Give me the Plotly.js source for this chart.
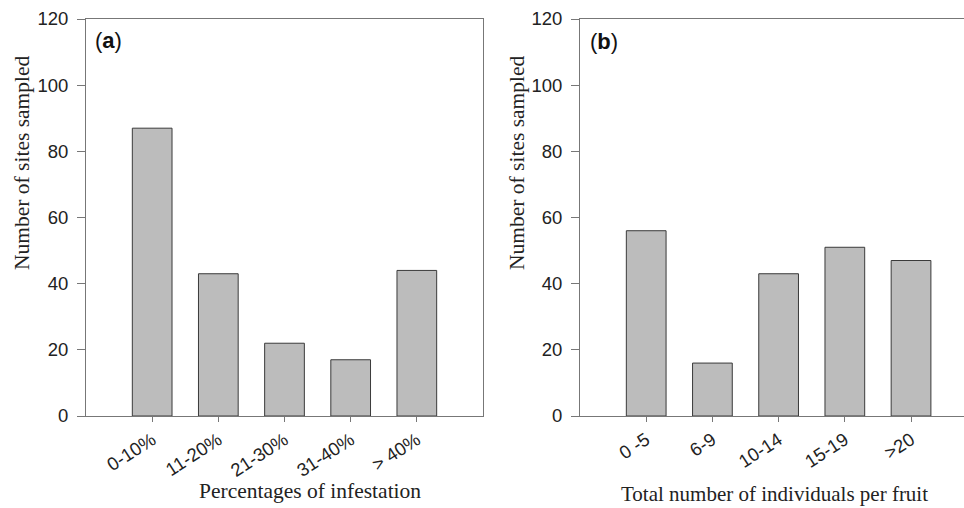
<!DOCTYPE html>
<html>
<head>
<meta charset="utf-8">
<script src="https://cdn.plot.ly/plotly-3.0.1.min.js"></script>
<style>html,body{margin:0;padding:0;background:#fff;}#chart{width:964px;height:508px;}</style>
</head>
<body>
<div id="chart"></div>
<script>
var catsA = ["0-10%", "11-20%", "21-30%", "31-40%", "> 40%"];
var valsA = [87, 43, 22, 17, 44];
var catsB = ["0 -5", "6-9", "10-14", "15-19", ">20"];
var valsB = [56, 16, 43, 51, 47];
var yTicks = [0, 20, 40, 60, 80, 100, 120];

var barStyle = {color: "#bcbcbc", line: {color: "#3a3a3a", width: 1}};
var traces = [
  {type: "bar", x: [0,1,2,3,4], y: valsA, width: 0.6, marker: barStyle, xaxis: "x", yaxis: "y", hoverinfo: "none"},
  {type: "bar", x: [0,1,2,3,4], y: valsB, width: 0.6, marker: barStyle, xaxis: "x2", yaxis: "y2", hoverinfo: "none"}
];
var xTickFont = {family: "Liberation Sans, Arial, sans-serif", size: 18.5, color: "#222"};
var yTickFont = {family: "Liberation Sans, Arial, sans-serif", size: 18.5, color: "#222"};
function xax(domain, cats, range) {
  return {domain: domain, range: range, tickmode: "array", tickvals: [0,1,2,3,4], ticktext: cats,
    tickangle: -33, ticks: "outside", ticklen: 5, tickcolor: "#777", tickwidth: 1,
    showline: true, mirror: true, linecolor: "#777", linewidth: 1, showgrid: false, zeroline: false,
    tickfont: xTickFont, fixedrange: true};
}
function yax(anchor) {
  return {domain: [1 - 416/508, 1 - 19/508], range: [0, 120], tickmode: "array", tickvals: yTicks,
    ticks: "outside", ticklen: 8, tickcolor: "#777", tickwidth: 1, showline: true, mirror: true,
    ticklabelstandoff: 5,
    linecolor: "#777", linewidth: 1, showgrid: false, zeroline: false, tickfont: yTickFont, anchor: anchor, fixedrange: true};
}
var serif = {family: "Liberation Serif, Times New Roman, serif", size: 21.5, color: "#222"};
var labFont = {family: "Liberation Sans, Arial, sans-serif", size: 22, color: "#111"};
var layout = {
  width: 964, height: 508, margin: {l: 0, r: 0, t: 0, b: 0},
  paper_bgcolor: "#fff", plot_bgcolor: "#fff", showlegend: false, bargap: 0.4,
  xaxis: Object.assign(xax([86/964, 483/964], catsA, [-1, 5]), {anchor: "y"}),
  yaxis: yax("x"),
  xaxis2: Object.assign(xax([580/964, 1], catsB, [-1, 4.8]), {anchor: "y2"}),
  yaxis2: yax("x2"),
  annotations: [
    {xref: "paper", yref: "paper", x: 310/964, y: 1 - 491/508, text: "Percentages of infestation", showarrow: false, font: serif, xanchor: "center", yanchor: "middle"},
    {xref: "paper", yref: "paper", x: 774/964, y: 1 - 494/508, text: "Total number of individuals per fruit", showarrow: false, font: {family: serif.family, size: 21, color: serif.color}, xanchor: "center", yanchor: "middle"},
    {xref: "paper", yref: "paper", x: 22/964, y: 1 - 163/508, text: "Number of sites sampled", textangle: -90, showarrow: false, font: serif, xanchor: "center", yanchor: "middle"},
    {xref: "paper", yref: "paper", x: 517/964, y: 1 - 163/508, text: "Number of sites sampled", textangle: -90, showarrow: false, font: serif, xanchor: "center", yanchor: "middle"},
    {xref: "paper", yref: "paper", x: 93/964, y: 1 - 41/508, text: "(<b>a</b>)", showarrow: false, font: labFont, xanchor: "left", yanchor: "middle"},
    {xref: "paper", yref: "paper", x: 588/964, y: 1 - 42/508, text: "(<b>b</b>)", showarrow: false, font: labFont, xanchor: "left", yanchor: "middle"}
  ]
};
Plotly.newPlot("chart", traces, layout, {displayModeBar: false, staticPlot: true});
</script>
</body>
</html>
